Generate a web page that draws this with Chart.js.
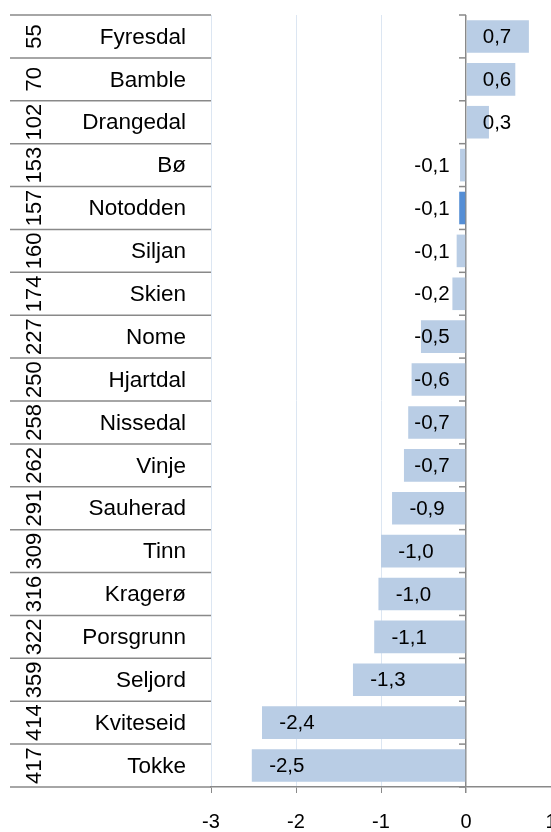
<!DOCTYPE html>
<html>
<head>
<meta charset="utf-8">
<script src="https://cdn.jsdelivr.net/npm/chart.js@4.4.0/dist/chart.umd.min.js"></script>
<style>
  html, body { margin: 0; padding: 0; background: #fff; overflow: hidden; }
  #wrap { position: relative; width: 551px; height: 832px; }
</style>
</head>
<body>
<div id="wrap"><canvas id="chart"></canvas></div>
<script>
// Data
const municipalities = ['Fyresdal', 'Bamble', 'Drangedal', 'Bø', 'Notodden', 'Siljan', 'Skien', 'Nome', 'Hjartdal',
  'Nissedal', 'Vinje', 'Sauherad', 'Tinn', 'Kragerø', 'Porsgrunn', 'Seljord', 'Kviteseid', 'Tokke'];
const ranks = [55, 70, 102, 153, 157, 160, 174, 227, 250, 258, 262, 291, 309, 316, 322, 359, 414, 417];
const changes = [0.74, 0.58, 0.27, -0.07, -0.08, -0.11, -0.16, -0.53, -0.64, -0.68, -0.73, -0.87, -1.0, -1.03,
  -1.08, -1.33, -2.4, -2.52];
const xTicks = [-3, -2, -1, 0, 1];
const highlighted = 'Notodden';

const BAR = '#b9cde5';
const BAR_HI = '#558ed5';
const AXIS = '#898989';
const GRID = '#dce6f2';
const FONT = "'Liberation Sans', Arial, sans-serif";

const fmt = (v) => v.toFixed(1).replace('.', ',');

// draws the rank / name table left of the plot, the ticks on the zero line and the value labels
const tablePlugin = {
  id: 'table',
  afterDraw(chart) {
    const ctx = chart.ctx;
    const y = chart.scales.y;
    const x = chart.scales.x;
    const area = chart.chartArea;
    const n = municipalities.length;
    const zero = x.getPixelForValue(0);

    const bounds = [];
    for (let i = 0; i <= n; i++) {
      if (i === 0) bounds.push(area.top);
      else if (i === n) bounds.push(area.bottom);
      else bounds.push((y.getPixelForValue(i - 1) + y.getPixelForValue(i)) / 2);
    }

    ctx.save();
    ctx.strokeStyle = AXIS;
    ctx.lineWidth = 1.5;
    bounds.forEach(b => {
      ctx.beginPath();
      ctx.moveTo(10, b);
      ctx.lineTo(area.left, b);
      ctx.stroke();
      // small tick marks on the zero line
      ctx.beginPath();
      ctx.moveTo(zero - 7, b);
      ctx.lineTo(zero, b);
      ctx.stroke();
    });

    ctx.fillStyle = '#000';
    municipalities.forEach((name, i) => {
      const cy = y.getPixelForValue(i);
      ctx.font = '22.5px ' + FONT;
      ctx.textAlign = 'right';
      ctx.textBaseline = 'middle';
      ctx.fillText(name, 186, cy + 1);

      ctx.save();
      ctx.translate(35, cy);
      ctx.rotate(-Math.PI / 2);
      ctx.font = '22px ' + FONT;
      ctx.textAlign = 'center';
      ctx.textBaseline = 'middle';
      ctx.fillText(String(ranks[i]), 0, 0);
      ctx.restore();
    });

    // value labels
    ctx.font = '20.5px ' + FONT;
    ctx.textAlign = 'center';
    ctx.textBaseline = 'middle';
    changes.forEach((v, i) => {
      const px = x.getPixelForValue(v);
      const cx = v >= 0 ? zero + 31 : Math.min(px + 35, zero - 34);
      ctx.fillText(fmt(v), cx, y.getPixelForValue(i) + 1);
    });
    ctx.restore();
  }
};

new Chart(document.getElementById('chart'), {
  type: 'bar',
  data: {
    labels: municipalities,
    datasets: [{
      data: changes,
      backgroundColor: municipalities.map(m => m === highlighted ? BAR_HI : BAR),
      borderWidth: 0,
      barPercentage: 0.76,
      categoryPercentage: 1.0
    }]
  },
  options: {
    indexAxis: 'y',
    responsive: true,
    maintainAspectRatio: false,
    animation: false,
    layout: { padding: { left: 211, top: 15, right: 0, bottom: 0 } },
    plugins: { legend: { display: false }, tooltip: { enabled: false } },
    scales: {
      x: {
        min: -3,
        max: 1,
        afterBuildTicks: (scale) => { scale.ticks = xTicks.map(v => ({ value: v })); },
        afterFit: (scale) => {
          scale.height = 45;
          scale.paddingLeft = 0;
          scale.paddingRight = 0;
        },
        grid: {
          color: (c) => c.tick && c.tick.value === 0 ? AXIS : GRID,
          lineWidth: (c) => c.tick && c.tick.value === 0 ? 1.5 : 1,
          tickColor: AXIS,
          tickLength: 6
        },
        border: { color: AXIS, width: 1.5 },
        ticks: {
          color: '#000',
          padding: 17,
          maxRotation: 0,
          font: { size: 20, family: FONT },
          callback: (v) => String(v)
        }
      },
      y: {
        display: false
      }
    }
  },
  plugins: [tablePlugin]
});
</script>
</body>
</html>
